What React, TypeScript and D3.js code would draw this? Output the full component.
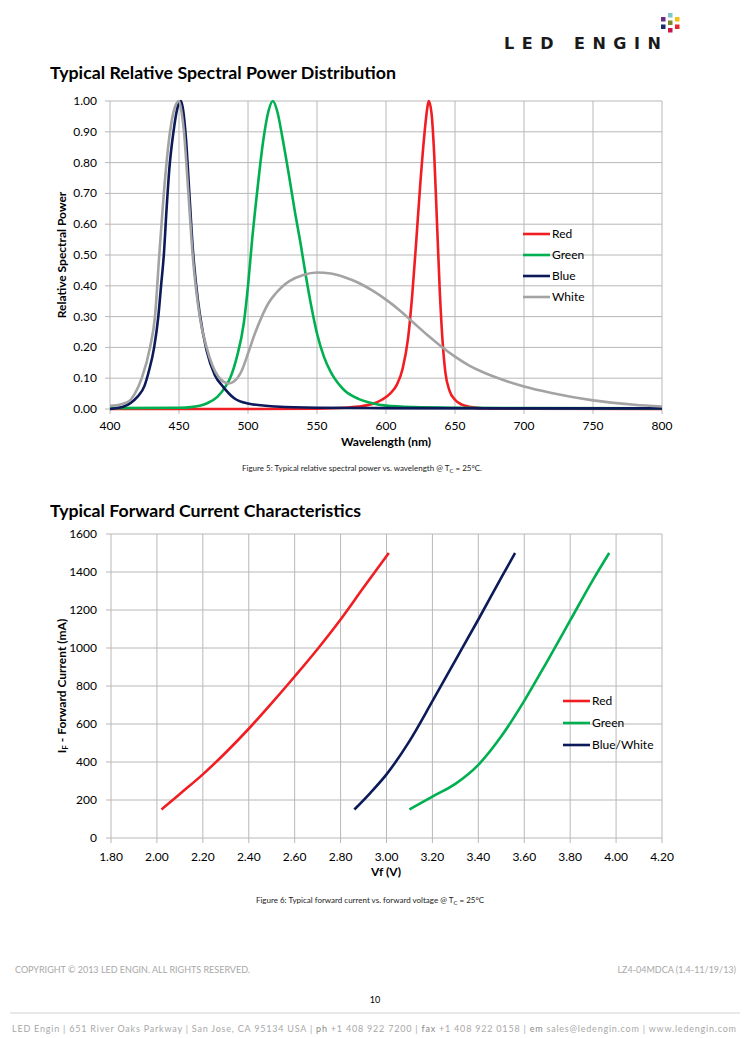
import React from "react";
import * as d3 from "d3";

// ---------- Chart 1 data: relative spectral power ----------
const wlTicks = [400, 450, 500, 550, 600, 650, 700, 750, 800];
const rspTicks = [0, 0.1, 0.2, 0.3, 0.4, 0.5, 0.6, 0.7, 0.8, 0.9, 1.0];

const redSpectrum: [number, number][] = [
  [400, 0], [500, 0], [550, 0.001], [570, 0.004], [580, 0.008], [590, 0.016], [597, 0.03],
  [603, 0.05], [608, 0.08], [612, 0.13], [616, 0.23], [619, 0.37], [622, 0.55], [625, 0.74],
  [628, 0.9], [630, 0.98], [631, 1.0], [633, 0.96], [635, 0.82], [637, 0.6], [639, 0.38],
  [641, 0.22], [643, 0.12], [646, 0.06], [650, 0.03], [655, 0.014], [662, 0.006],
  [670, 0.002], [700, 0.001], [800, 0],
];
const greenSpectrum: [number, number][] = [
  [400, 0.003], [450, 0.004], [460, 0.007], [470, 0.018], [478, 0.04], [484, 0.075],
  [487, 0.1], [492, 0.17], [497, 0.28], [500, 0.4], [503, 0.55], [507, 0.72], [511, 0.87],
  [515, 0.97], [518, 1.0], [521, 0.97], [525, 0.88], [530, 0.75], [534, 0.64], [538, 0.54],
  [542, 0.43], [546, 0.33], [550, 0.245], [555, 0.17], [560, 0.12], [565, 0.085],
  [570, 0.06], [580, 0.033], [590, 0.019], [600, 0.011], [620, 0.006], [650, 0.004],
  [700, 0.003], [800, 0.002],
];
const blueSpectrum: [number, number][] = [
  [400, 0.0], [405, 0.003], [410, 0.008], [415, 0.02], [420, 0.04], [425, 0.075],
  [428, 0.12], [432, 0.2], [435, 0.3], [437, 0.4], [439, 0.5], [441, 0.65], [443, 0.78],
  [446, 0.9], [449, 0.98], [451.5, 1.0], [453, 0.97], [455, 0.88], [457.5, 0.7],
  [460, 0.52], [462.5, 0.4], [465, 0.31], [470, 0.19], [476, 0.11], [482, 0.072],
  [490, 0.035], [500, 0.018], [520, 0.008], [550, 0.004], [600, 0.003], [700, 0.002],
  [800, 0.002],
];
const whiteSpectrum: [number, number][] = [
  [400, 0.01], [405, 0.012], [410, 0.018], [414.5, 0.028], [418, 0.05], [423, 0.1],
  [429, 0.2], [432.6, 0.3], [435.7, 0.5], [439, 0.7], [443.5, 0.9], [447, 0.98],
  [450, 1.0], [452, 0.96], [453.6, 0.9], [456.8, 0.7], [459.9, 0.5], [465, 0.3],
  [470, 0.2], [478.5, 0.105], [486, 0.083], [490, 0.09], [495, 0.12], [500, 0.18],
  [505, 0.245], [510, 0.3], [515, 0.345], [520, 0.375], [525, 0.398], [530, 0.415],
  [540, 0.435], [550, 0.443], [560, 0.44], [570, 0.428], [580, 0.41], [590, 0.385],
  [600, 0.355], [610, 0.32], [620, 0.28], [630, 0.24], [640, 0.203], [650, 0.17],
  [660, 0.142], [670, 0.12], [680, 0.102], [700, 0.073], [720, 0.052], [750, 0.028],
  [780, 0.014], [800, 0.008],
];

// ---------- Chart 2 data: forward current vs voltage ----------
const vfTicks = [1.8, 2.0, 2.2, 2.4, 2.6, 2.8, 3.0, 3.2, 3.4, 3.6, 3.8, 4.0, 4.2];
const ifTicks = [0, 200, 400, 600, 800, 1000, 1200, 1400, 1600];

const redIV: [number, number][] = [
  [2.02, 150], [2.1, 232], [2.2, 335], [2.3, 450], [2.4, 575], [2.5, 710], [2.6, 850],
  [2.7, 995], [2.8, 1150], [2.9, 1318], [3.01, 1500],
];
const greenIV: [number, number][] = [
  [3.1, 150], [3.2, 218], [3.3, 285], [3.4, 385], [3.5, 535], [3.6, 722], [3.7, 930],
  [3.8, 1145], [3.9, 1360], [3.97, 1500],
];
const blueWhiteIV: [number, number][] = [
  [2.86, 150], [2.93, 238], [3.0, 335], [3.1, 510], [3.2, 720], [3.3, 935], [3.4, 1150],
  [3.5, 1370], [3.56, 1500],
];

const RED = "#f01e23";
const GREEN = "#00b050";
const NAVY = "#0c1a5a";
const GRAY = "#a3a3a3";
const GRID = "#b8b8b8";
const FONT = "Lato, 'Open Sans', sans-serif";

const spectralSeries = [
  { name: "Red", color: RED, data: redSpectrum },
  { name: "Green", color: GREEN, data: greenSpectrum },
  { name: "Blue", color: NAVY, data: blueSpectrum },
  { name: "White", color: GRAY, data: whiteSpectrum },
];
const ivSeries = [
  { name: "Red", color: RED, data: redIV },
  { name: "Green", color: GREEN, data: greenIV },
  { name: "Blue/White", color: NAVY, data: blueWhiteIV },
];

export default function App() {
  const x1 = d3.scaleLinear().domain([400, 800]).range([110, 662]);
  const y1 = d3.scaleLinear().domain([0, 1]).range([409, 101]);
  const line1 = d3
    .line<[number, number]>()
    .x((d) => x1(d[0]))
    .y((d) => y1(d[1]))
    .curve(d3.curveMonotoneX);

  const x2 = d3.scaleLinear().domain([1.8, 4.2]).range([111, 662]);
  const y2 = d3.scaleLinear().domain([0, 1600]).range([838, 534]);
  const line2 = d3
    .line<[number, number]>()
    .x((d) => x2(d[0]))
    .y((d) => y2(d[1]))
    .curve(d3.curveMonotoneX);

  const logoDots = [
    { x: 668, y: 13, c: "#7ec8c8" },
    { x: 661, y: 17, c: "#6a2b82" },
    { x: 668, y: 20.5, c: "#7a8a2a" },
    { x: 675, y: 17, c: "#f2c21b" },
    { x: 661, y: 24.5, c: "#1d2a6b" },
    { x: 668, y: 28, c: "#c8184a" },
    { x: 675, y: 24.5, c: "#e8262b" },
  ];

  return (
    <svg
      width={750}
      height={1038}
      style={{ position: "absolute", left: 0, top: 0, background: "#fff" }}
      fontFamily={FONT}
    >
      <rect x={0} y={0} width={750} height={1038} fill="#fff" />
      {/* Logo */}
      <text x={504} y={49} fontFamily="'DejaVu Sans', sans-serif" fontSize={16} fontWeight="bold"
        fill="#1a1a1a" letterSpacing={7.5}>
        LED ENGIN
      </text>
      {logoDots.map((d, i) => (
        <rect key={i} x={d.x} y={d.y} width={4.5} height={4.5} fill={d.c} />
      ))}

      {/* ---------------- Chart 1 ---------------- */}
      <text x={50} y={79} fontSize={17} fontWeight="bold" fill="#000" textLength={346} lengthAdjust="spacingAndGlyphs">
        Typical Relative Spectral Power Distribution
      </text>
      {rspTicks.map((t) => (
        <line key={"h1" + t} x1={x1(400) - 5} x2={x1(800)} y1={y1(t)} y2={y1(t)} stroke={GRID} strokeWidth={1} />
      ))}
      {wlTicks.map((t) => (
        <line key={"v1" + t} x1={x1(t)} x2={x1(t)} y1={y1(1)} y2={y1(0) + 5} stroke={GRID} strokeWidth={1} />
      ))}
      {rspTicks.map((t) => (
        <text key={"yl1" + t} x={97} y={y1(t) + 4} fontSize={12} textAnchor="end" fill="#000">
          {t.toFixed(2)}
        </text>
      ))}
      {wlTicks.map((t) => (
        <text key={"xl1" + t} x={x1(t)} y={430} fontSize={12} textAnchor="middle" fill="#000">
          {t}
        </text>
      ))}
      <text x={386} y={446} fontSize={12} fontWeight="bold" textAnchor="middle" fill="#000">
        Wavelength (nm)
      </text>
      <text
        transform={`translate(66,${y1(0.5)}) rotate(-90)`}
        fontSize={12}
        fontWeight="bold"
        textAnchor="middle"
        fill="#000"
      >
        Relative Spectral Power
      </text>
      {spectralSeries.map((s) => (
        <path key={s.name} d={line1(s.data) || ""} fill="none" stroke={s.color} strokeWidth={2.6} strokeLinejoin="round" />
      ))}
      {spectralSeries.map((s, i) => (
        <g key={"lg1" + s.name}>
          <line x1={523} x2={550} y1={234 + i * 21} y2={234 + i * 21} stroke={s.color} strokeWidth={2.6} />
          <text x={552} y={238 + i * 21} fontSize={12} fill="#000">
            {s.name}
          </text>
        </g>
      ))}
      <text x={362} y={471} fontSize={8} textAnchor="middle" fill="#222">
        Figure 5:  Typical relative spectral power vs. wavelength @ T
        <tspan fontSize={6} dy={2}>C</tspan>
        <tspan dy={-2}> = 25°C.</tspan>
      </text>

      {/* ---------------- Chart 2 ---------------- */}
      <text x={50} y={517} fontSize={17} fontWeight="bold" fill="#000" textLength={311} lengthAdjust="spacingAndGlyphs">
        Typical Forward Current Characteristics
      </text>
      {ifTicks.map((t) => (
        <line key={"h2" + t} x1={x2(1.8) - 5} x2={x2(4.2)} y1={y2(t)} y2={y2(t)} stroke={GRID} strokeWidth={1} />
      ))}
      {vfTicks.map((t) => (
        <line key={"v2" + t} x1={x2(t)} x2={x2(t)} y1={y2(1600)} y2={y2(0) + 5} stroke={GRID} strokeWidth={1} />
      ))}
      {ifTicks.map((t) => (
        <text key={"yl2" + t} x={97} y={y2(t) + 4} fontSize={12} textAnchor="end" fill="#000">
          {t}
        </text>
      ))}
      {vfTicks.map((t) => (
        <text key={"xl2" + t} x={x2(t)} y={861} fontSize={12} textAnchor="middle" fill="#000">
          {t.toFixed(2)}
        </text>
      ))}
      <text x={386} y={876} fontSize={12} fontWeight="bold" textAnchor="middle" fill="#000">
        Vf (V)
      </text>
      <text transform={`translate(66,${y2(800)}) rotate(-90)`} fontSize={12} fontWeight="bold" textAnchor="middle" fill="#000">
        I<tspan fontSize={8} dy={2}>F</tspan>
        <tspan dy={-2}> - Forward Current (mA)</tspan>
      </text>
      {ivSeries.map((s) => (
        <path key={s.name} d={line2(s.data) || ""} fill="none" stroke={s.color} strokeWidth={2.6} strokeLinejoin="round" />
      ))}
      {ivSeries.map((s, i) => (
        <g key={"lg2" + s.name}>
          <line x1={563} x2={590} y1={701 + i * 22} y2={701 + i * 22} stroke={s.color} strokeWidth={2.6} />
          <text x={592} y={705 + i * 22} fontSize={12} fill="#000">
            {s.name}
          </text>
        </g>
      ))}
      <text x={370} y={903} fontSize={8} textAnchor="middle" fill="#222">
        Figure 6:  Typical forward current vs. forward voltage @ T
        <tspan fontSize={6} dy={2}>C</tspan>
        <tspan dy={-2}> = 25°C</tspan>
      </text>

      {/* ---------------- Footer ---------------- */}
      <text x={15} y={973} fontSize={9} fill="#a8a8a8">
        COPYRIGHT © 2013 LED ENGIN. ALL RIGHTS RESERVED.
      </text>
      <text x={736} y={973} fontSize={9} fill="#a8a8a8" textAnchor="end">
        LZ4-04MDCA (1.4-11/19/13)
      </text>
      <text x={375} y={1003} fontSize={9} fill="#000" textAnchor="middle">
        10
      </text>
      <line x1={10} x2={740} y1={1013} y2={1013} stroke="#e2e2e2" strokeWidth={1.5} />
      <text x={12} y={1032} fontSize={9} fill="#a8a8a8" textLength={724} lengthAdjust="spacing">
        LED Engin  |  651 River Oaks Parkway  |  San Jose, CA  95134  USA  |  <tspan fill="#888">ph</tspan> +1 408 922 7200  |  <tspan fill="#888">fax</tspan> +1 408 922 0158  |  <tspan fill="#888">em</tspan>  sales@ledengin.com  |  www.ledengin.com
      </text>
    </svg>
  );
}
